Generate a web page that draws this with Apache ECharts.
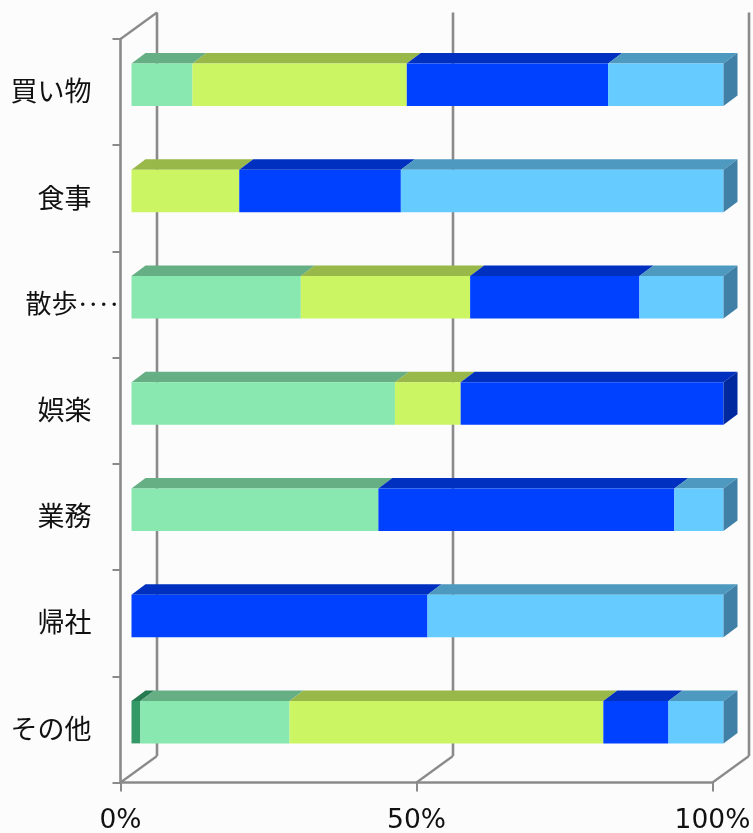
<!DOCTYPE html>
<html><head><meta charset="utf-8">
<style>html,body{margin:0;padding:0;background:#fcfcfc}#c{width:753px;height:833px}</style>
<script src="https://cdn.jsdelivr.net/npm/echarts@6/dist/echarts.min.js"></script>
</head><body><div id="c"></div>
<script>
const categories = ['買い物','食事','散歩‥‥','娯楽','業務','帰社','その他'];
const xTicks = [0,50,100];
const seriesA = [0,0,0,0,0,0,1.5];
const seriesB = [10.3,0,28.6,44.5,41.7,0,25.2];
const seriesC = [36.2,18.2,28.6,11.1,0,0,53];
const seriesD = [34,27.3,28.6,44.4,50,50,11];
const seriesE = [19.5,54.5,14.2,0,8.3,50,9.3];
const allValues = [seriesA,seriesB,seriesC,seriesD,seriesE];
const palette = [
  {front:'#339966',top:'#267a50',side:'#1f6642'},
  {front:'#88E8B0',top:'#66AE84',side:'#558f6e'},
  {front:'#CBF562',top:'#99B84A',side:'#7f993e'},
  {front:'#0040FF',top:'#0030BF',side:'#00289f'},
  {front:'#66CCFF',top:'#4D99BF',side:'#4080A6'}
];
const DX=14, DY=10.5, BAR_H=42.5, FX=11, CY=-7.25, WX=36.5, WY=26.5;
const gridLine='#8a8a8a';
function barRender(idx){
  return function(params,api){
    const x0=api.value(0),x1=api.value(1),c=api.value(2);
    if(x1-x0<=0) return null;
    const a=api.coord([x0,c]),b=api.coord([x1,c]);
    const L=a[0]+FX,R=b[0]+FX,T=a[1]+CY-BAR_H/2,B=T+BAR_H;
    const col=palette[idx];
    const kids=[
      {type:'polygon',shape:{points:[[L,T],[R,T],[R+DX,T-DY],[L+DX,T-DY]]},style:{fill:col.top}},
      {type:'rect',shape:{x:L,y:T,width:R-L,height:BAR_H},style:{fill:col.front}}
    ];
    if(x1>=99.9) kids.push({type:'polygon',shape:{points:[[R,T],[R+DX,T-DY],[R+DX,B-DY],[R,B]]},style:{fill:col.side}});
    return {type:'group',children:kids};
  };
}
const barSeries=allValues.map((vals,idx)=>({
  type:'custom',name:'S'+(idx+1),z:10+idx,clip:false,
  renderItem:barRender(idx),
  encode:{x:[0,1],y:2},
  data:vals.map((v,i)=>{
    let s=0;for(let k=0;k<idx;k++) s+=allValues[k][i];
    return [s,s+v,i];
  })
}));
const wallSeries={
  type:'custom',z:1,clip:false,silent:true,
  renderItem(params,api){
    const v=api.value(0);
    const cs=params.coordSys;
    const x=api.coord([v,0])[0];
    const top=cs.y,bot=cs.y+cs.height;
    const ls={stroke:gridLine,lineWidth:2.6,fill:'none'};
    const kids=[
      {type:'line',shape:{x1:x+WX,y1:top-WY,x2:x+WX,y2:bot-WY},style:ls},
      {type:'line',shape:{x1:x,y1:bot,x2:x+WX,y2:bot-WY},style:{stroke:gridLine,lineWidth:2.2,fill:'none'}}
    ];
    if(v===0) kids.push({type:'line',shape:{x1:x,y1:top,x2:x+WX,y2:top-WY},style:{stroke:gridLine,lineWidth:2.2,fill:'none'}});
    return {type:'group',children:kids};
  },
  encode:{x:0},
  data:xTicks.map(v=>[v])
};
const chart=echarts.init(document.getElementById('c'),null,{renderer:'canvas'});
chart.setOption({
  animation:false,
  backgroundColor:'#fcfcfc',
  grid:{left:120.5,top:39,width:592,height:743.5,outerBoundsMode:'none'},
  xAxis:{type:'value',min:0,max:100,interval:50,
    axisLine:{show:true,lineStyle:{color:gridLine,width:2.6}},
    axisTick:{show:true,length:9,lineStyle:{color:gridLine,width:2}},
    splitLine:{show:false},
    axisLabel:{formatter:'{value}%',color:'#111',fontSize:26.5,margin:25,fontFamily:'DejaVu Sans',hideOverlap:false}
  },
  yAxis:{type:'category',inverse:true,data:categories,
    axisLine:{show:true,onZero:false,lineStyle:{color:gridLine,width:2.6}},
    axisTick:{show:true,length:8,lineStyle:{color:gridLine,width:2}},
    axisLabel:{color:'#111',margin:1,interval:0,
      formatter:v=>v.indexOf('‥')>=0?'{w|'+v.replace(/‥/g,'')+'}{d|'+v.replace(/[^‥]/g,'')+'}':'{n|'+v+'}',
      rich:{
        n:{fontSize:27,color:'#111',fontFamily:'Noto Sans CJK JP',padding:[0,28,2,0]},
        w:{fontSize:26,color:'#111',fontFamily:'Noto Sans CJK JP',padding:[0,0,2,0]},
        d:{fontSize:21,fontWeight:'bold',color:'#111',fontFamily:'Noto Sans CJK JP',padding:[0,0,2,0]}
      }}
  },
  series:[wallSeries].concat(barSeries)
});
</script></body></html>
